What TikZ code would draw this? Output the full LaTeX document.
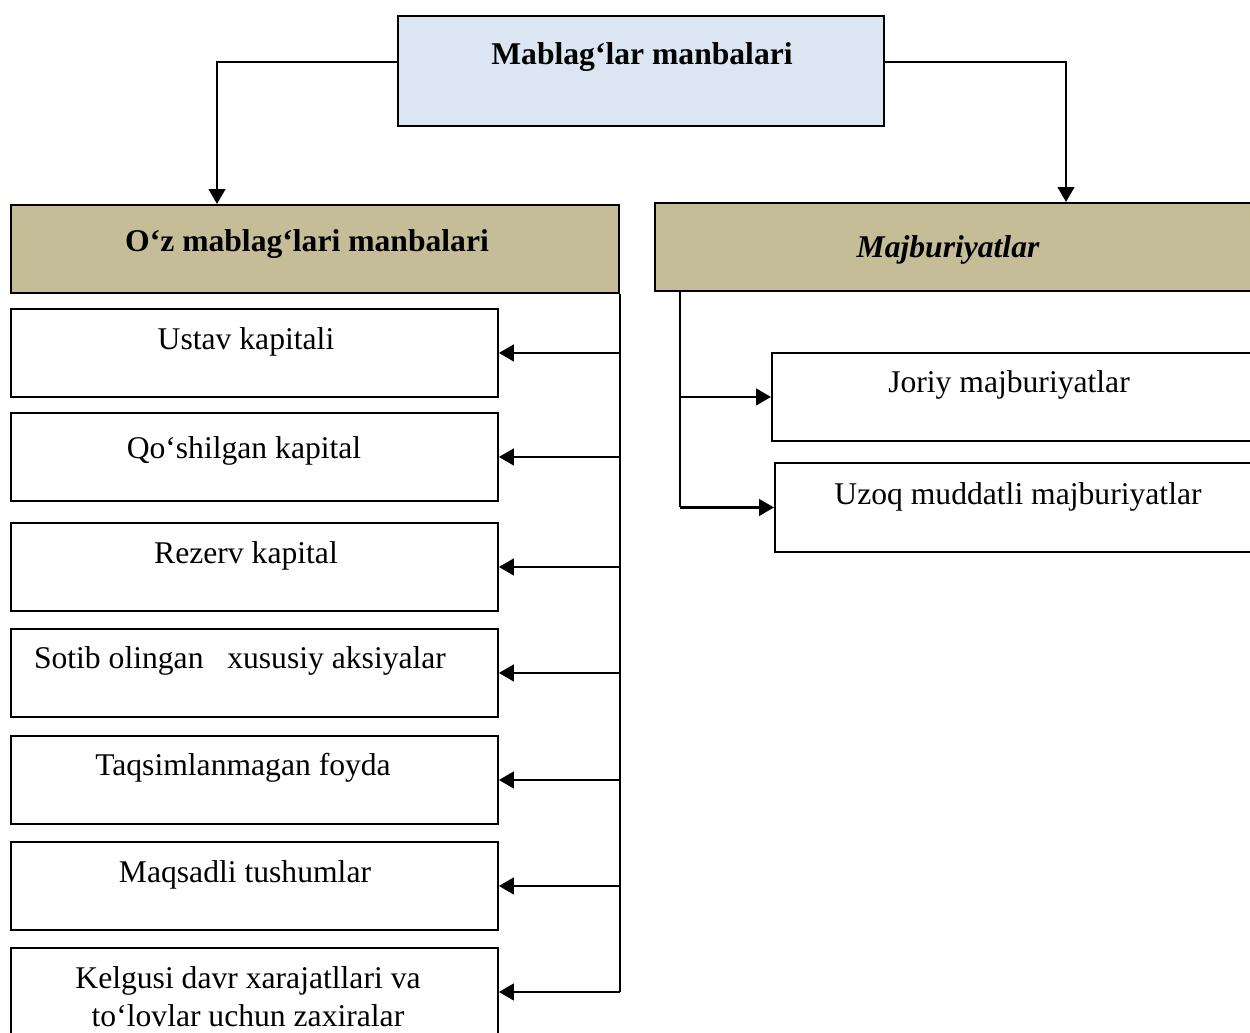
\documentclass[tikz,border=0pt]{standalone}
\usepackage{fontspec}
\setmainfont{Liberation Serif}
\usetikzlibrary{arrows.meta}

\definecolor{topfill}{HTML}{DCE6F2}
\definecolor{headfill}{HTML}{C4BD97}

\tikzset{
    box/.style={draw, line width=1.1pt, anchor=north west, inner sep=0pt,
        minimum width=9.74cm, minimum height=1.76cm},
    headbox/.style={box, fill=headfill, minimum width=12.16cm},
    lbl/.style={anchor=base, inner sep=0pt},
    bus/.style={line width=1.1pt},
    arr/.style={line width=1.6pt, -{Triangle[length=0.3cm, width=0.33cm]}},
}

\begin{document}
\begin{tikzpicture}[x=0.02cm, y=-0.02cm, font=\fontsize{18}{21.6}\selectfont]

        \useasboundingbox (0, 0) rectangle (1250, 1032);

        % top box
        \node[box, fill=topfill, minimum width=9.72cm, minimum height=2.2cm] (src) at (397, 15) {};
        \node[lbl] (src-t) at (642, 64) {\bfseries Mablag‘lar manbalari};

        % the two groups
        \node[headbox] (own) at (10, 204) {};
        \node[lbl] (own-t) at (307, 251) {\bfseries O‘z mablag‘lari manbalari};
        \node[headbox, minimum width=12.4cm] (liab) at (654, 202) {};
        \node[lbl] (liab-t) at (948, 257) {\bfseries\itshape Majburiyatlar};

        \draw[arr] ([yshift=0.18cm]src.west) -| (own.north -| 217, 0);
        \draw[arr] ([yshift=0.18cm]src.east) -| (liab.north -| 1066, 0);

        % own sources
        \node[box] (ustav) at (10, 308) {};
        \node[lbl] (ustav-t) at (246, 349) {Ustav kapitali};
        \node[box] (qoshilgan) at (10, 412) {};
        \node[lbl] (qoshilgan-t) at (244, 458) {Qo‘shilgan kapital};
        \node[box] (rezerv) at (10, 522) {};
        \node[lbl] (rezerv-t) at (246, 563) {Rezerv kapital};
        \node[box] (aksiya) at (10, 628) {};
        \node[lbl] (aksiya-t) at (240, 668) {Sotib olingan\ \ \ xususiy aksiyalar};
        \node[box] (foyda) at (10, 735) {};
        \node[lbl] (foyda-t) at (243, 775) {Taqsimlanmagan foyda};
        \node[box] (tushum) at (10, 841) {};
        \node[lbl] (tushum-t) at (245, 882) {Maqsadli tushumlar};
        \node[box] (zaxira) at (10, 947) {};
        \node[anchor=north, inner sep=0pt, align=center] (zaxira-t) at (248, 966)
            {Kelgusi davr xarajatllari va\\to‘lovlar uchun zaxiralar};

        \draw[bus] (own.south east) -- (own.south east |- zaxira.east);
        \draw[arr] (own.south east |- ustav.east) -- (ustav.east);
        \draw[arr] (own.south east |- qoshilgan.east) -- (qoshilgan.east);
        \draw[arr] (own.south east |- rezerv.east) -- (rezerv.east);
        \draw[arr] (own.south east |- aksiya.east) -- (aksiya.east);
        \draw[arr] (own.south east |- foyda.east) -- (foyda.east);
        \draw[arr] (own.south east |- tushum.east) -- (tushum.east);
        \draw[arr] (own.south east |- zaxira.east) -- (zaxira.east);

        % liabilities
        \node[box, minimum width=10cm] (joriy) at (771, 352) {};
        \node[lbl] (joriy-t) at (1009, 392) {Joriy majburiyatlar};
        \node[box, minimum width=10cm, minimum height=1.78cm] (uzoq) at (774, 462) {};
        \node[lbl] (uzoq-t) at (1018, 504) {Uzoq muddatli majburiyatlar};

        \coordinate (rbus) at (680, 290);
        \draw[bus] (rbus) -- (rbus |- uzoq.west);
        \draw[arr] (rbus |- joriy.west) -- (joriy.west);
        \draw[arr] (rbus |- uzoq.west) -- (uzoq.west);

\end{tikzpicture}
\end{document}
